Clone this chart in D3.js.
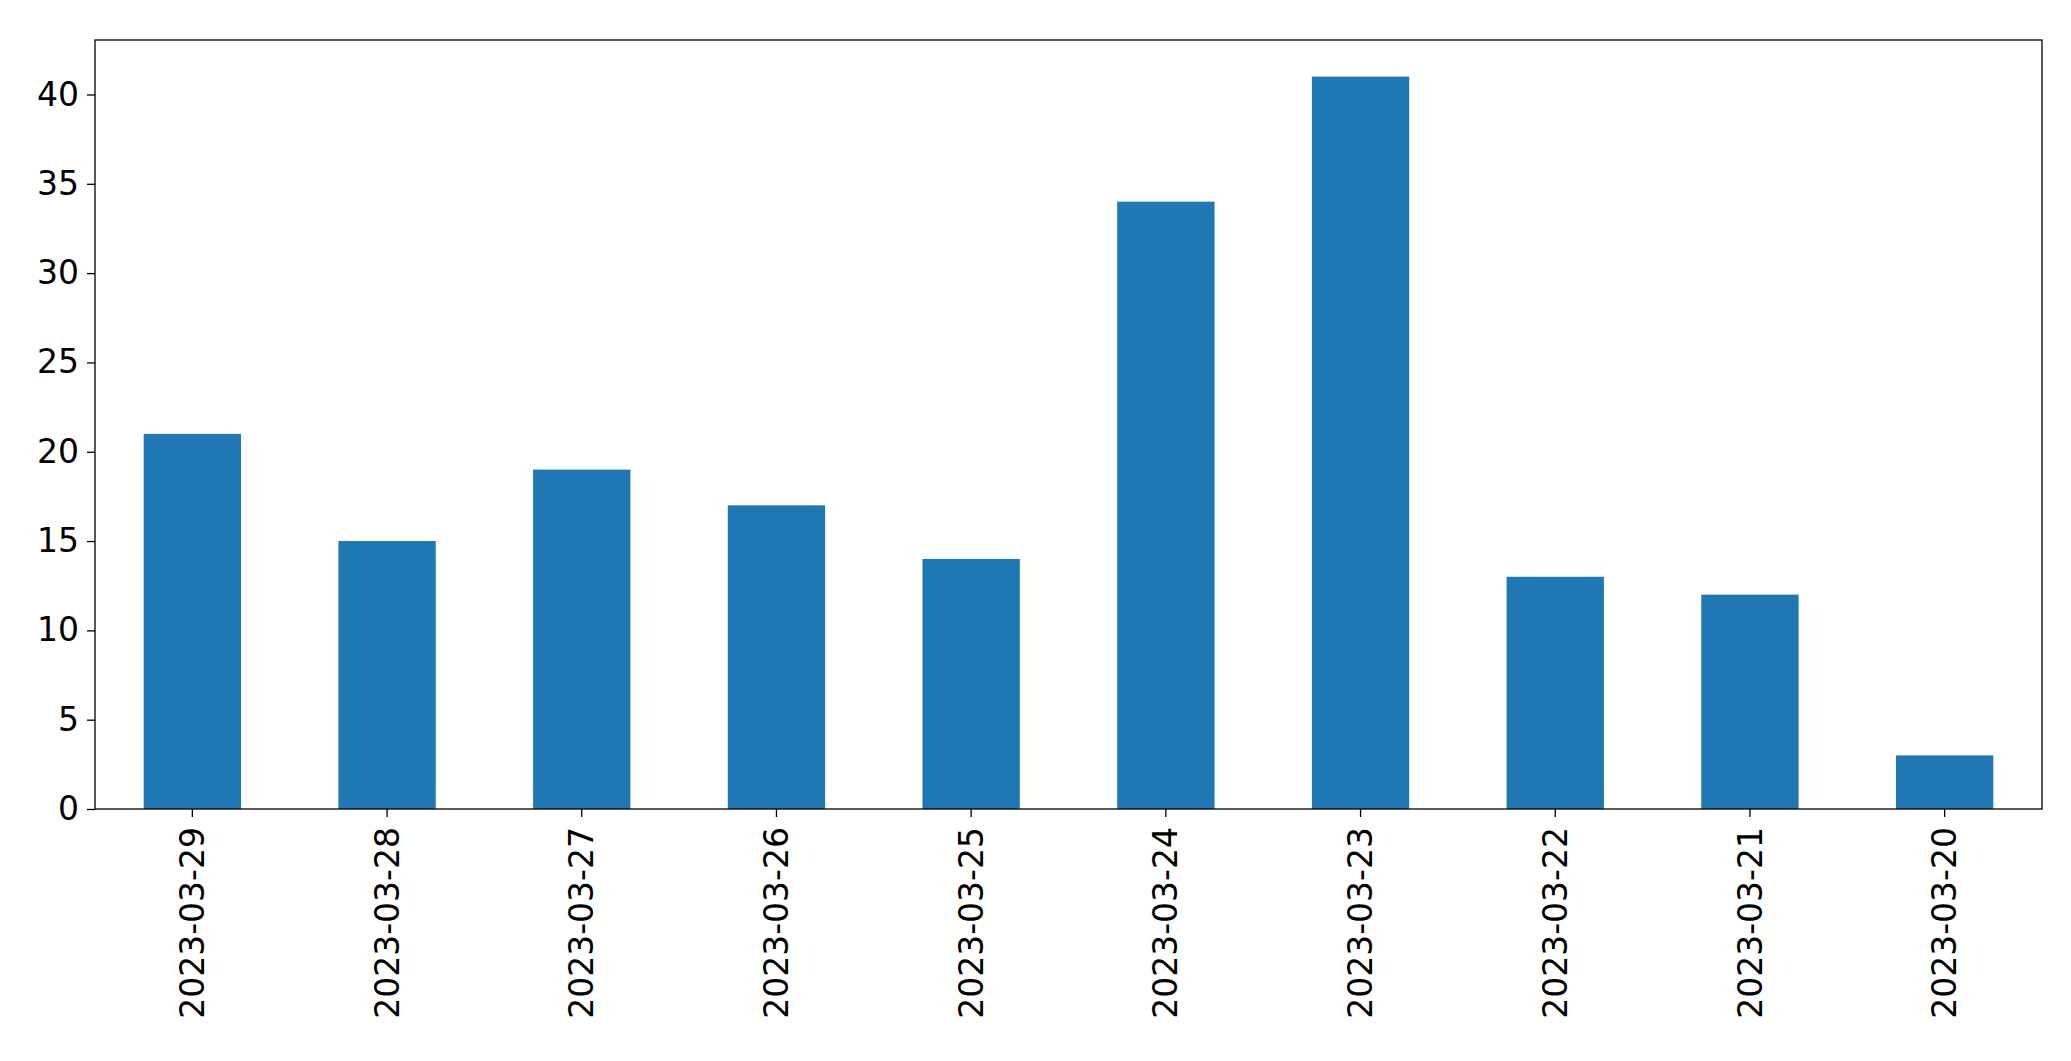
<!DOCTYPE html>
<html><head><meta charset="utf-8">
<script src="https://cdn.jsdelivr.net/npm/d3@7"></script>
<style>body{margin:0;background:#fff}</style>
</head><body><div id="chart"></div>
<script>
var dates = ["2023-03-29","2023-03-28","2023-03-27","2023-03-26","2023-03-25","2023-03-24","2023-03-23","2023-03-22","2023-03-21","2023-03-20"];
var counts = [21, 15, 19, 17, 14, 34, 41, 13, 12, 3];
var yTicks = [0, 5, 10, 15, 20, 25, 30, 35, 40];

var width = 2071, height = 1061;
var margin = { top: 40, right: 29, bottom: 252, left: 95 };
var chartWidth = width - margin.left - margin.right;
var chartHeight = height - margin.top - margin.bottom;

var svg = d3.select("#chart").append("svg").attr("width", width).attr("height", height);
var g = svg.append("g").attr("transform", "translate(" + margin.left + "," + margin.top + ")");

var x = d3.scaleBand().domain(dates).range([0, chartWidth]).paddingInner(0.5).paddingOuter(0.25);
var y = d3.scaleLinear().domain([0, 43.05]).range([chartHeight, 0]);

g.selectAll(".bar").data(d3.zip(dates, counts)).enter().append("rect")
	.attr("x", function(d) { return x(d[0]); })
	.attr("y", function(d) { return y(d[1]); })
	.attr("width", x.bandwidth())
	.attr("height", function(d) { return chartHeight - y(d[1]); })
	.attr("fill", "#1f77b4");

var fontFam = "DejaVu Sans, sans-serif";

var yAxis = g.append("g").call(d3.axisLeft(y).tickValues(yTicks).tickSize(8).tickPadding(8));
yAxis.selectAll("text").style("font-size", "33px").style("font-family", fontFam).attr("fill", "#000");

var xAxis = g.append("g").attr("transform", "translate(0," + chartHeight + ")")
	.call(d3.axisBottom(x).tickSize(8).tickPadding(10));
xAxis.selectAll("text")
	.style("font-size", "33px").style("font-family", fontFam).attr("fill", "#000")
	.attr("transform", "rotate(-90)")
	.attr("x", -18).attr("y", 0).attr("dy", "0.35em")
	.style("text-anchor", "end");
g.selectAll(".domain").remove();
g.selectAll(".tick line").attr("stroke", "#000").attr("stroke-width", 1.3);

g.append("rect").attr("width", chartWidth).attr("height", chartHeight)
	.attr("fill", "none").attr("stroke", "#000").attr("stroke-width", 1.3);
</script></body></html>
